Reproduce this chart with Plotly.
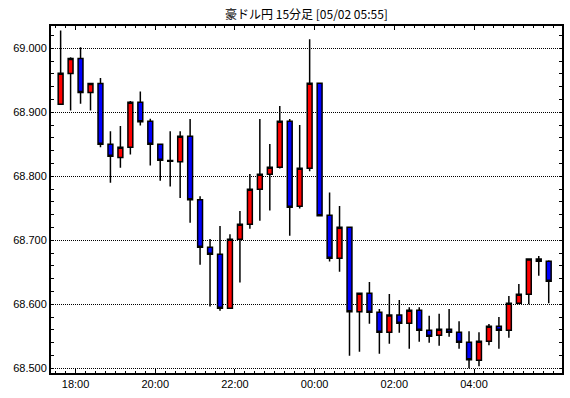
import plotly.graph_objects as go
import pandas as pd

times = [
    "2020-05-01 17:30", "2020-05-01 17:45", "2020-05-01 18:00", "2020-05-01 18:15",
    "2020-05-01 18:30", "2020-05-01 18:45", "2020-05-01 19:00", "2020-05-01 19:15",
    "2020-05-01 19:30", "2020-05-01 19:45", "2020-05-01 20:00", "2020-05-01 20:15",
    "2020-05-01 20:30", "2020-05-01 20:45", "2020-05-01 21:00", "2020-05-01 21:15",
    "2020-05-01 21:30", "2020-05-01 21:45", "2020-05-01 22:00", "2020-05-01 22:15",
    "2020-05-01 22:30", "2020-05-01 22:45", "2020-05-01 23:00", "2020-05-01 23:15",
    "2020-05-01 23:30", "2020-05-01 23:45", "2020-05-02 00:00", "2020-05-02 00:15",
    "2020-05-02 00:30", "2020-05-02 00:45", "2020-05-02 01:00", "2020-05-02 01:15",
    "2020-05-02 01:30", "2020-05-02 01:45", "2020-05-02 02:00", "2020-05-02 02:15",
    "2020-05-02 02:30", "2020-05-02 02:45", "2020-05-02 03:00", "2020-05-02 03:15",
    "2020-05-02 03:30", "2020-05-02 03:45", "2020-05-02 04:00", "2020-05-02 04:15",
    "2020-05-02 04:30", "2020-05-02 04:45", "2020-05-02 05:00", "2020-05-02 05:15",
    "2020-05-02 05:30", "2020-05-02 05:45",
]

opens = [
    68.9125, 68.9604, 68.9840, 68.9310, 68.9450, 68.8500, 68.8292, 68.8453,
    68.9156, 68.8859, 68.8500, 68.8245, 68.8229, 68.8625, 68.7635, 68.6891,
    68.6781, 68.5938, 68.7016, 68.7250, 68.7797, 68.8031, 68.8141, 68.8859,
    68.7531, 68.8125, 68.9453, 68.7390, 68.6719, 68.7203, 68.5885, 68.6172,
    68.5875, 68.5563, 68.5833, 68.5703, 68.5906, 68.5594, 68.5516, 68.5609,
    68.5563, 68.5406, 68.5125, 68.5422, 68.5656, 68.5594, 68.6016, 68.6156,
    68.6708, 68.6672,
]
highs = [
    69.0276, 68.9860, 69.0016, 68.9450, 68.9536, 68.8703, 68.8786, 68.9177,
    68.9323, 68.8900, 68.8500, 68.8703, 68.8703, 68.8896, 68.7688, 68.7021,
    68.7224, 68.7094, 68.7458, 68.8036, 68.8896, 68.8505, 68.9099, 68.8896,
    68.8802, 69.0141, 68.9453, 68.7745, 68.7536, 68.7203, 68.6172, 68.6349,
    68.5927, 68.6161, 68.6068, 68.5953, 68.5953, 68.5823, 68.5854, 68.5927,
    68.5734, 68.5578, 68.5563, 68.5693, 68.5802, 68.6130, 68.6318, 68.6708,
    68.6755, 68.6688,
]
lows = [
    68.9125, 68.9026, 68.9135, 68.9026, 68.8453, 68.7901, 68.8135, 68.8339,
    68.8792, 68.8167, 68.7932, 68.7839, 68.7661, 68.7276, 68.6620, 68.5964,
    68.5901, 68.5938, 68.6339, 68.7182, 68.7307, 68.7464, 68.8120, 68.7073,
    68.7495, 68.8078, 68.7385, 68.6667, 68.6510, 68.5198, 68.5260, 68.5698,
    68.5229, 68.5385, 68.5557, 68.5307, 68.5417, 68.5401, 68.5354, 68.5495,
    68.5307, 68.5000, 68.5031, 68.5359, 68.5307, 68.5479, 68.6000, 68.6000,
    68.6448, 68.6016,
]
closes = [
    68.9610, 68.9839, 68.9310, 68.9450, 68.8500, 68.8313, 68.8453, 68.9156,
    68.8854, 68.8500, 68.8250, 68.8235, 68.8625, 68.7635, 68.6891, 68.6781,
    68.5938, 68.7016, 68.7250, 68.7797, 68.8031, 68.8141, 68.8859, 68.7516,
    68.8125, 68.9453, 68.7385, 68.6719, 68.7203, 68.5885, 68.6172, 68.5875,
    68.5563, 68.5833, 68.5703, 68.5906, 68.5594, 68.5500, 68.5609, 68.5563,
    68.5406, 68.5135, 68.5422, 68.5656, 68.5594, 68.6016, 68.6156, 68.6708,
    68.6672, 68.6359,
]

x_tick_vals = ["2020-05-01 18:00", "2020-05-01 20:00", "2020-05-01 22:00",
               "2020-05-02 00:00", "2020-05-02 02:00", "2020-05-02 04:00"]
x_tick_text = ["18:00", "20:00", "22:00", "00:00", "02:00", "04:00"]
y_tick_vals = [68.5, 68.6, 68.7, 68.8, 68.9, 69.0]
y_tick_text = ["68.500", "68.600", "68.700", "68.800", "68.900", "69.000"]
title_text = "豪ドル円 15分足 [05/02 05:55]"

# candles are drawn at the middle of their 15-minute interval
centers = pd.to_datetime(times) + pd.Timedelta(minutes=7.5)

fig = go.Figure(go.Candlestick(
    x=centers, open=opens, high=highs, low=lows, close=closes,
    increasing=dict(fillcolor="#ff0000", line=dict(color="black", width=1.5)),
    decreasing=dict(fillcolor="#0000ff", line=dict(color="black", width=1.5)),
    whiskerwidth=0, showlegend=False, hoverinfo="skip",
))

tick_font = dict(family="Liberation Sans, Arial, sans-serif", size=11, color="black")

fig.update_layout(
    width=570, height=398,
    margin=dict(l=51, r=6, t=26, b=25),
    paper_bgcolor="white", plot_bgcolor="white",
    title=dict(text=title_text, x=0.5, xref="paper", xanchor="center",
               y=1 - 15 / 398, yref="container", yanchor="middle",
               font=dict(family="Noto Sans CJK JP, sans-serif", size=12, color="black")),
    showlegend=False,
    xaxis=dict(
        type="date",
        range=["2020-05-01 17:23:00", "2020-05-02 06:12:30"],
        rangeslider=dict(visible=False),
        tickmode="array", tickvals=x_tick_vals, ticktext=x_tick_text,
        ticks="inside", ticklen=4, tickwidth=1, tickcolor="black",
        showline=True, linewidth=2, linecolor="black", mirror="ticks",
        showgrid=False, zeroline=False,
        tickfont=tick_font,
        minor=dict(tickmode="linear", tick0="2020-05-01 18:00", dtick=900000,
                   ticks="inside", ticklen=2, tickwidth=1, tickcolor="black",
                   showgrid=False),
        fixedrange=True,
    ),
    yaxis=dict(
        range=[68.4927, 69.0348],
        tickmode="array", tickvals=y_tick_vals, ticktext=y_tick_text,
        ticks="inside", ticklen=3, tickwidth=1, tickcolor="black",
        showline=True, linewidth=2, linecolor="black", mirror="ticks",
        showgrid=True, gridcolor="black", gridwidth=1, griddash="1px,1px",
        zeroline=False,
        tickfont=tick_font,
        minor=dict(tickmode="linear", tick0=68.5, dtick=0.02,
                   ticks="inside", ticklen=3, tickwidth=1, tickcolor="black",
                   showgrid=False),
        fixedrange=True,
    ),
)

fig.write_html("out.html")
